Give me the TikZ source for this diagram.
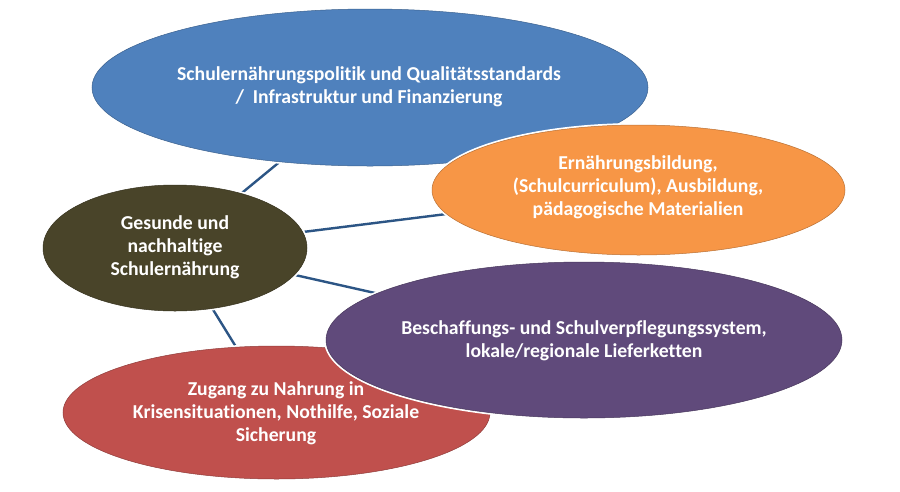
\documentclass[tikz,border=0pt]{standalone}
\usepackage{fontspec}
\setmainfont{Carlito}[Ligatures=NoCommon]
\usetikzlibrary{shapes.geometric,backgrounds}
\definecolor{cblue}{HTML}{4F81BD}
\definecolor{corange}{HTML}{F79646}
\definecolor{colive}{HTML}{494429}
\definecolor{cred}{HTML}{C0504D}
\definecolor{cpurple}{HTML}{604A7B}
\definecolor{clink}{HTML}{2C5585}
\tikzset{
  bubble/.style={ellipse, inner sep=0pt, fill=#1, draw=#1!75!black, line width=0.5pt,
    preaction={draw=white, line width=4pt}},
  txt/.style={text=white, font=\bfseries\fontsize{19.7}{23}\selectfont, align=center, inner sep=0pt},
  link/.style={draw=clink, line width=2.4pt}
}
\begin{document}
\begin{tikzpicture}[x=1pt,y=-1pt]
\useasboundingbox (0,0) rectangle (900,491);
% ellipses
\node[bubble=cblue, minimum width=556pt, minimum height=157pt] (blue) at (370,87.5) {};
\node[bubble=corange, minimum width=413pt, minimum height=130pt] (orange) at (638.5,190) {};
\node[bubble=colive, minimum width=264pt, minimum height=126pt] (olive) at (175,248) {};
\node[bubble=cred, minimum width=427pt, minimum height=133pt] (red) at (276.5,412.5) {};
\node[bubble=cpurple, minimum width=516pt, minimum height=156pt] (purple) at (584,340) {};
% texts
\node[txt] (tblue) at (369,87) {Schulernährungspolitik und Qualitätsstandards\\/\ \ Infrastruktur und Finanzierung};
\node[txt] (torange) at (638,187) {Ernährungsbildung,\\(Schulcurriculum), Ausbildung,\\pädagogische Materialien};
\node[txt] (tolive) at (175,247) {Gesunde und\\nachhaltige\\Schulernährung};
\node[txt] (tred) at (276,413) {Zugang zu Nahrung in\\Krisensituationen, Nothilfe, Soziale\\Sicherung};
\node[txt] (tpurple) at (584,340.5) {Beschaffungs- und Schulverpflegungssystem,\\lokale/regionale Lieferketten};
% connectors
\begin{scope}[on background layer]
\fill[white] (0,0) rectangle (900,491);
\draw[link] (olive) -- (blue);
\draw[link] (olive) -- (orange);
\draw[link] (olive) -- (purple);
\draw[link] (olive) -- (red);
\end{scope}
\end{tikzpicture}
\end{document}
